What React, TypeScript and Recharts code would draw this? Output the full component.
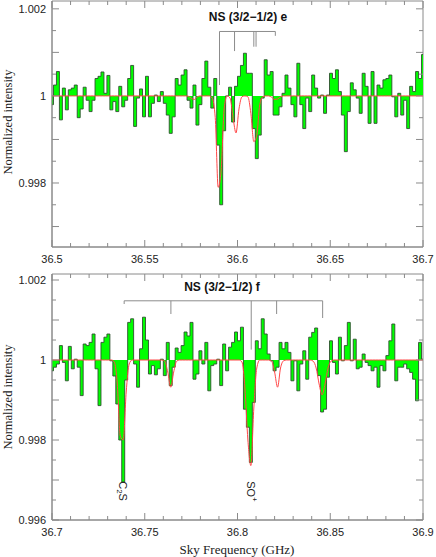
import React from 'react'
import { ComposedChart, Area, Line, XAxis, YAxis, ReferenceLine, ReferenceArea, ReferenceDot } from 'recharts'

// channel spacing of the spectrometer (GHz)
const CHANNEL = 0.0016
const TOP_START = 36.5
const BOTTOM_START = 36.7

// observed spectrum, deviation from 1 in units of 1e-4
const topSpectrum = [
  -2, 2.5, 5.6, -5.5, 1.8, -3.2, 1.4, 1.8, 2.5, -5,
  -3, 2, -1, -3.6, -1, 4, 4.5, 5.5, 0.6, 4.7,
  -3.2, -1.3, -3.6, 2.2, -2.5, -1, 4, 7, -7, -0.5,
  1.6, -4.8, 4.5, -4.8, -1.7, 0.2, -1.3, 1, -1.7, -4.4,
  -8.6, -4.8, 4, 2.5, 4.8, 6, -1, -2.8, 2.5, -6.7,
  -2, 4, 8, 2, -2.8, 4, -11.3, -25, -8, 0,
  2, -6, 2.2, 4.5, 7, 9.8, 5.2, 5.2, -7.5, -14.4,
  -9, -0.5, 8.3, 4.8, 5.6, -4.4, -4.4, -2.5, 0.6, 4.8,
  1.8, -2, -4.8, 7.5, -2, -7.5, -0.5, -3.6, 4.8, 1.8,
  -0.5, 0.2, -4, 0.2, 5.2, 4, 6, 1, -4.4, -12.8,
  -3.6, 3, 1.4, -0.5, -4, 5.2, 2.2, -6.3, 5.6, -6.3,
  2.5, 1.8, 3.7, 4, 4.8, -0.2, -4.8, 0.6, -4.4, -1,
  -7.5, 2.2, 1, 5.6, 4, 9.5,
]
const bottomSpectrum = [
  -2.7, -1.8, -1, 3.6, -0.6, -5.2, 3.4, -2.2, 0.2, -1.8,
  -8.9, 4, 3.6, 4.4, 6.5, -2.2, -11.4, 4.4, 5.7, 6.5,
  -0.2, -4, -11, -20, -30.5, -5, 9.4, 10.3, -1, -6.8,
  2.8, 10.7, 5, -3.5, -1.4, -3.7, -2.2, 0.2, -3.9, 4.4,
  -6.4, -1.8, 3, 1.9, 3.6, 7, 6, 9.4, -4.8, -3.5,
  2.3, -1, 4.4, -7.7, -1.4, -1, 0.2, -6.4, 4, -2.7,
  3.2, 4.4, 7, 4.8, 8.2, -12.3, -16.8, -25.6, -10.6, 4.8,
  2.8, 10.3, 6.5, 1.5, -0.2, -2.7, -1.8, 4.4, 2.8, 4.4,
  1.9, -5.2, -0.2, -7.7, -1, 2.3, -4.8, 5.7, 6.9, 8,
  -3.9, -13, -12.3, -4.3, 4.8, -0.6, -3.5, 5.7, -0.2, 3.6,
  9.4, -0.2, 5.2, -2.2, -1.8, 1.5, -0.6, -1.4, -2.7, -1.8,
  -6.8, -1.4, -2.7, 1.1, 4.8, 9, -5.2, -1.8, -1.8, -1,
  -2.2, -3.1, -4.8, -10.2, 4.4, 0.2,
]

// model fit: channels that depart from the continuum and their depth (1e-4)
const topModelChan = [46, 47, 48, 49, 54, 55, 56, 57, 58, 60, 61, 62, 63, 64, 66, 67, 68, 69, 70, 71, 74, 75, 76, 77]
const topModelDepth = [-0.1, -0.6, -0.8, -0.2, -0.5, -5, -21, -17, -3, -0.5, -5, -8.5, -3, -0.2, -0.2, -4, -10.5, -9, -2, -0.2, -0.3, -0.8, -0.7, -0.2]
const bottomModelChan = [21, 22, 23, 24, 25, 26, 38, 39, 40, 41, 42, 64, 65, 66, 67, 68, 69, 74, 75, 76, 77, 78, 88, 89, 90, 91, 92, 93, 94]
const bottomModelDepth = [-0.5, -6, -19, -20, -8, -1, -0.3, -3, -6.8, -3, -0.3, -0.5, -7, -20, -26.4, -12, -2, -0.3, -3, -6.8, -2, -0.2, -0.3, -2, -6, -8.7, -6, -2, -0.3]

const topXTicks = [36.5, 36.51, 36.52, 36.53, 36.54, 36.55, 36.56, 36.57, 36.58, 36.59, 36.6, 36.61, 36.62, 36.63, 36.64, 36.65, 36.66, 36.67, 36.68, 36.69, 36.7]
const bottomXTicks = [36.7, 36.71, 36.72, 36.73, 36.74, 36.75, 36.76, 36.77, 36.78, 36.79, 36.8, 36.81, 36.82, 36.83, 36.84, 36.85, 36.86, 36.87, 36.88, 36.89, 36.9]
const topYTicks = [0.997, 0.9975, 0.998, 0.9985, 0.999, 0.9995, 1, 1.0005, 1.001, 1.0015, 1.002]
const bottomYTicks = [0.996, 0.9965, 0.997, 0.9975, 0.998, 0.9985, 0.999, 0.9995, 1, 1.0005, 1.001, 1.0015, 1.002]

// hyperfine component markers: frequency and where the drop ends
const topMarkFreq = [36.5903, 36.5984, 36.6088, 36.61, 36.6204]
const topMarkEnd = [1.00025, 1.00103, 1.00113, 1.00113, 1.00138]
const bottomMarkFreq = [36.7389, 36.7641, 36.8074, 36.8211, 36.8459]
const bottomMarkEnd = [1.0014, 1.00115, 1.00026, 1.00115, 1.00105]
const MARK_LEVEL = 1.00148

const AXIS = '#8a8a8a'
const TICK_FONT = '"Liberation Sans", Arial, sans-serif'
const LABEL_FONT = '"Liberation Serif", "Times New Roman", serif'

function buildRows(start: number, spec: number[], chans: number[], depths: number[]) {
  return spec.map((d, i) => {
    const j = chans.indexOf(i)
    return {
      freq: start + i * CHANNEL,
      obs: 1 + d * 1e-4,
      model: 1 + (j >= 0 ? depths[j] : 0) * 1e-4,
    }
  })
}

const topRows = buildRows(TOP_START, topSpectrum, topModelChan, topModelDepth)
const bottomRows = buildRows(BOTTOM_START, bottomSpectrum, bottomModelChan, bottomModelDepth)

const isMult = (v: number, k: number) => Math.abs(v * k - Math.round(v * k)) < 1e-6

function Panel(p: any) {
  const [x0, x1] = p.xDomain
  const [y0, y1] = p.yDomain
  const right = 423

  const xTick = (props: any) => {
    const { x, payload } = props
    const v = payload.value
    const major = isMult(v, 20)
    const len = major ? 7 : 4
    return (
      <g>
        <line x1={x} x2={x} y1={p.plotBottom} y2={p.plotBottom - len} stroke={AXIS} />
        <line x1={x} x2={x} y1={p.plotTop} y2={p.plotTop + len} stroke={AXIS} />
        {major && (
          <text x={x} y={p.plotBottom + 16} textAnchor="middle" fontSize={11} fontFamily={TICK_FONT} fill="#222">
            {String(Number(v.toFixed(2)))}
          </text>
        )}
      </g>
    )
  }

  const yTick = (props: any) => {
    const { y, payload } = props
    const v = payload.value
    const labelled = isMult(v, 500)
    const len = isMult(v, 1000) ? 7 : 4
    return (
      <g>
        <line x1={52} x2={52 + len} y1={y} y2={y} stroke={AXIS} />
        <line x1={right} x2={right - len} y1={y} y2={y} stroke={AXIS} />
        {labelled && (
          <text x={46} y={y + 4} textAnchor="end" fontSize={11} fontFamily={TICK_FONT} fill="#222">
            {String(Number(v.toFixed(4)))}
          </text>
        )}
      </g>
    )
  }

  const first = p.markFreq[0]
  const last = p.markFreq[p.markFreq.length - 1]

  return (
    <ComposedChart width={436} height={p.height} data={p.rows} margin={{ top: p.plotTop, right: 13, bottom: 0, left: 0 }}>
      <XAxis dataKey="freq" type="number" domain={[x0, x1]} ticks={p.xTicks} interval={0} tick={xTick}
        tickLine={false} axisLine={{ stroke: AXIS }} height={p.height - p.plotBottom} allowDataOverflow />
      <YAxis type="number" domain={[y0, y1]} ticks={p.yTicks} interval={0} tick={yTick}
        tickLine={false} axisLine={{ stroke: AXIS }} width={52} allowDataOverflow />
      <ReferenceArea x1={x0} x2={x1} y1={y0} y2={y1} fill="none" fillOpacity={0} stroke={AXIS} />
      <Area type="step" dataKey="obs" baseValue={1} fill="#00ff00" fillOpacity={1} stroke="#2f4f2f"
        strokeWidth={0.9} dot={false} activeDot={false} isAnimationActive={false} />
      <Line type="monotone" dataKey="model" stroke="#ff4646" strokeWidth={1} dot={false} activeDot={false} isAnimationActive={false} />
      <ReferenceLine segment={[{ x: first, y: MARK_LEVEL }, { x: last, y: MARK_LEVEL }]} stroke="#8c8c8c" />
      {p.markFreq.map((f: number, i: number) => (
        <ReferenceLine key={i} segment={[{ x: f, y: MARK_LEVEL }, { x: f, y: p.markEnd[i] }]} stroke="#8c8c8c" />
      ))}
      {(p.notes || []).map((n: any, i: number) => (
        <ReferenceDot key={'n' + i} x={n.freq} y={n.level} r={0}
          shape={(s: any) => (
            <text x={s.cx} y={s.cy} transform={`rotate(90 ${s.cx} ${s.cy})`} dominantBaseline="central"
              fontSize={11} fontFamily={TICK_FONT} fill="#222">
              {n.parts.map((t: any, k: number) => (
                <tspan key={k} dy={t.dy} fontSize={t.small ? 8 : 11}>{t.text}</tspan>
              ))}
            </text>
          )} />
      ))}
    </ComposedChart>
  )
}

const bottomNotes = [
  { freq: 36.7385, level: 0.99697, parts: [{ text: 'C', dy: 0 }, { text: '2', dy: 3, small: true }, { text: 'S', dy: -3 }] },
  { freq: 36.8071, level: 0.99697, parts: [{ text: 'SO', dy: 0 }, { text: '+', dy: -4, small: true }] },
]

const titleStyle: React.CSSProperties = {
  position: 'absolute', width: 200, textAlign: 'center', fontFamily: TICK_FONT, fontWeight: 'bold',
  fontSize: 12, color: '#111', lineHeight: '14px',
}
const yLabelStyle: React.CSSProperties = {
  position: 'absolute', width: 200, textAlign: 'center', fontFamily: LABEL_FONT, fontSize: 12.5,
  color: '#222', lineHeight: '14px', transform: 'rotate(-90deg)',
}

export default function App() {
  return (
    <div style={{ position: 'absolute', left: 0, top: 0, width: 436, height: 557, background: '#fff' }}>
      <div style={{ position: 'absolute', left: 0, top: 0 }}>
        <Panel rows={topRows} height={270} plotTop={1} plotBottom={247}
          xDomain={[36.5, 36.7]} yDomain={[0.99653, 1.00218]} xTicks={topXTicks} yTicks={topYTicks}
          markFreq={topMarkFreq} markEnd={topMarkEnd} />
      </div>
      <div style={{ position: 'absolute', left: 0, top: 270 }}>
        <Panel rows={bottomRows} height={287} plotTop={4} plotBottom={250}
          xDomain={[36.7, 36.9]} yDomain={[0.996, 1.00215]} xTicks={bottomXTicks} yTicks={bottomYTicks}
          markFreq={bottomMarkFreq} markEnd={bottomMarkEnd} notes={bottomNotes} />
      </div>
      <div style={{ ...titleStyle, left: 148, top: 10 }}>NS (3/2−1/2) e</div>
      <div style={{ ...titleStyle, left: 122, top: 280 }}>NS (3/2−1/2) f</div>
      <div style={{ ...yLabelStyle, left: -92, top: 115 }}>Normalized intensity</div>
      <div style={{ ...yLabelStyle, left: -92, top: 390 }}>Normalized intensity</div>
      <div style={{ position: 'absolute', left: 137, width: 200, top: 542, textAlign: 'center', fontFamily: LABEL_FONT, fontSize: 13, color: '#222' }}>
        Sky Frequency (GHz)
      </div>
    </div>
  )
}
